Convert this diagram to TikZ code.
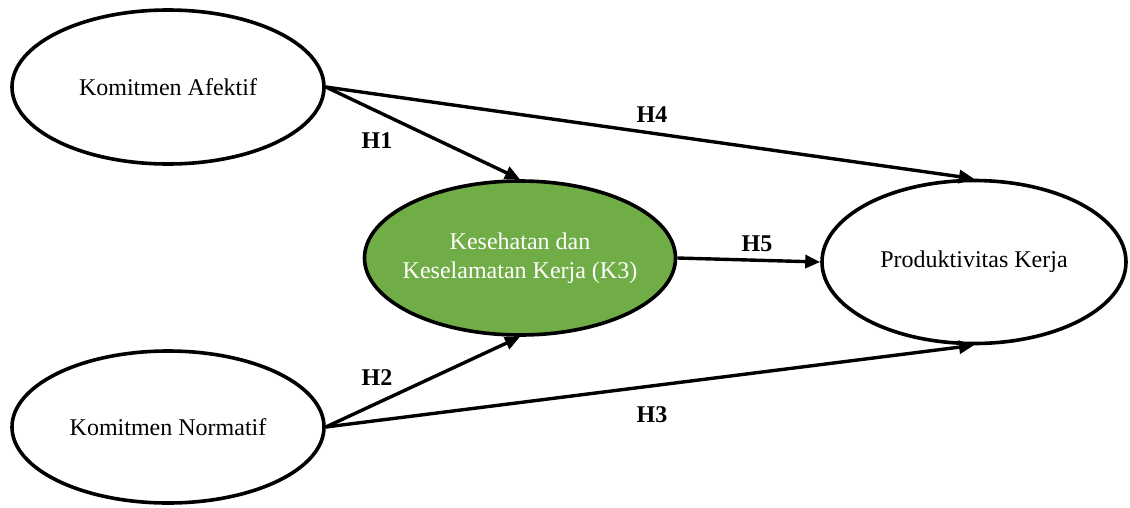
\documentclass[tikz,border=0pt]{standalone}
\usepackage{fontspec}
\setmainfont{Liberation Serif}
\usetikzlibrary{shapes.geometric,arrows.meta}
\definecolor{kgreen}{HTML}{70AD47}
\begin{document}
\begin{tikzpicture}[x=1pt,y=-1pt,
  construct/.style={ellipse,draw=black,line width=3.6pt,inner sep=0pt,
    font=\fontsize{24}{29}\selectfont,align=center},
  path/.style={draw=black,line width=3.4pt,-{Triangle[length=15pt,width=13pt]}},
  hyp/.style={font=\fontsize{24}{28}\selectfont\bfseries}]
\useasboundingbox (0,0) rectangle (1130,507);
\node[construct,minimum width=312pt,minimum height=154pt,fill=white] (afek) at (168,87) {Komitmen Afektif};
\node[construct,minimum width=312pt,minimum height=152pt,fill=white] (norm) at (168,427) {Komitmen Normatif};
\node[construct,inner xsep=-40pt,minimum width=311pt,minimum height=154pt,fill=kgreen,text=white] (k3) at (520,258) {Kesehatan dan\\Keselamatan Kerja (K3)};
\node[construct,minimum width=304pt,minimum height=163pt,fill=white] (prod) at (974,262) {Produktivitas Kerja};
\draw[path] (afek.east) -- (k3.north);
\draw[path] (afek.east) -- (prod.north);
\draw[path] (norm.east) -- (k3.south);
\draw[path] (norm.east) -- (prod.south);
\draw[path] (k3.east) -- (prod.west);
\node[hyp] (h1) at (377,141) {H1};
\node[hyp] (h2) at (377,378) {H2};
\node[hyp] (h3) at (652,415) {H3};
\node[hyp] (h4) at (652,115) {H4};
\node[hyp] (h5) at (757,244) {H5};
\end{tikzpicture}
\end{document}
